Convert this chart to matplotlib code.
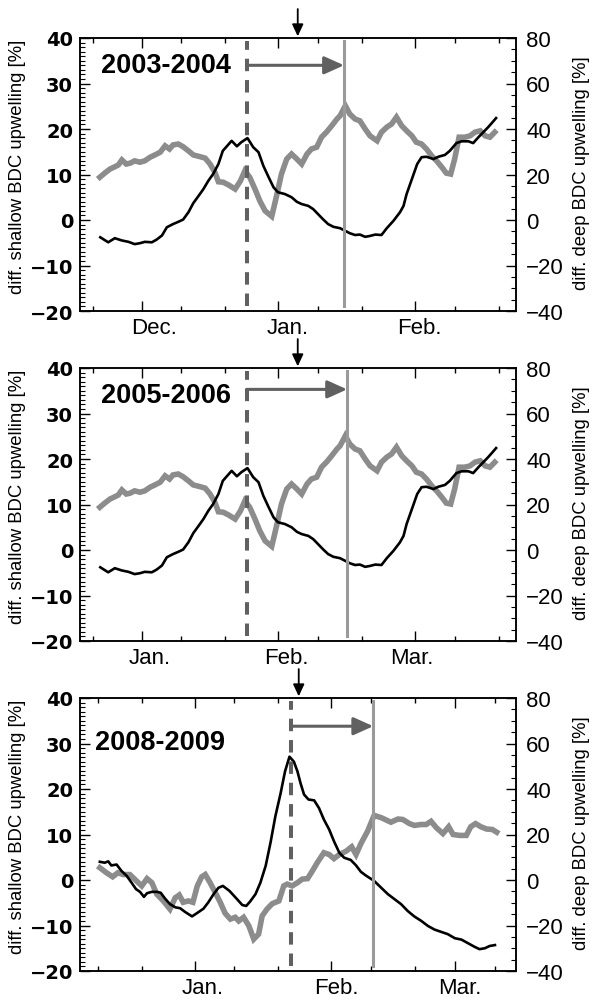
#!/usr/bin/env python3
# bdc_upwelling_panels.py

import matplotlib
matplotlib.use("Agg")
import matplotlib.pyplot as plt
import matplotlib.transforms as mtransforms
from matplotlib.ticker import MultipleLocator

plt.rcParams["font.family"] = ["DejaVu Sans"]

# ---- 2003-2004 (days since 1 Dec) ----
shallow_days_0304 = [-9.4, -7.6, -6.1, -4.5, -3.0, -1.6, -0.4, 0.7, 2.3, 3.4, 4.6, 5.7,
                     7.1, 8.3, 9.4, 10.6, 11.7, 12.9, 14.0, 15.1, 16.2, 17.4, 18.4, 20.4,
                     21.6, 22.6, 24.0, 25.3, 26.5, 27.6, 28.8, 29.9, 30.9, 32.5, 34.0, 35.2,
                     36.3, 37.8, 38.9, 40.0, 41.2, 42.3, 43.5, 45.0, 46.2, 47.2, 48.4, 49.5,
                     50.7, 51.8, 53.0, 54.4, 55.6, 57.1, 58.6, 59.4, 60.1, 60.9, 61.7, 62.5,
                     63.5, 64.6, 66.2, 67.3, 68.8, 69.9, 71.4, 72.6, 74.1, 75.2, 76.4, 77.5,
                     78.6, 79.6, 80.4]
shallow_0304 = [-3.8, -4.9, -4.0, -4.5, -4.8, -5.3, -5.1, -4.8, -4.9, -4.3, -3.4, -1.6,
                -0.9, -0.4, 0.1, 1.7, 3.7, 5.3, 6.8, 8.6, 10.1, 12.3, 15.2, 17.4,
                16.2, 17.1, 18.0, 16.0, 14.9, 11.9, 9.4, 7.2, 6.1, 5.7, 5.0, 4.0,
                3.5, 3.1, 2.4, 1.3, 0.1, -0.9, -1.5, -1.8, -2.4, -2.9, -3.3, -3.2,
                -3.7, -3.5, -3.2, -3.3, -1.8, -0.2, 1.7, 3.1, 5.7, 7.9, 10.1, 12.3,
                13.8, 13.9, 13.4, 13.9, 14.3, 15.2, 16.9, 17.3, 17.3, 16.9, 18.2, 19.3,
                20.4, 21.5, 22.4]
deep_days_0304 = [-9.5, -8.4, -7.2, -6.1, -5.3, -4.5, -3.5, -2.6, -1.6, -0.4, 0.7, 1.9,
                  3.0, 4.2, 5.3, 6.3, 7.1, 8.3, 9.4, 10.6, 11.7, 13.3, 14.4, 15.5,
                  16.6, 17.4, 18.5, 19.7, 21.2, 22.4, 23.4, 24.5, 25.7, 26.8, 28.0, 29.5,
                  30.6, 31.7, 32.9, 34.0, 35.2, 36.3, 37.5, 38.5, 39.7, 40.8, 42.0, 43.1,
                  44.3, 45.0, 46.2, 47.2, 48.4, 49.5, 50.7, 51.8, 53.4, 54.4, 55.6, 56.7,
                  57.8, 59.0, 60.1, 61.3, 62.3, 63.5, 64.6, 65.8, 66.9, 68.1, 69.1, 70.1,
                  71.0, 72.0, 73.3, 74.5, 75.6, 76.8, 77.9, 79.0, 80.1]
deep_0304 = [18.8, 20.6, 22.4, 23.4, 24.2, 26.4, 24.6, 25.0, 26.0, 25.4, 26.0, 27.6,
             28.6, 29.8, 32.6, 31.2, 33.0, 33.4, 32.2, 30.4, 28.6, 27.8, 27.2, 24.6,
             21.0, 16.8, 16.6, 15.4, 13.6, 17.2, 21.6, 18.8, 13.6, 8.4, 4.0, 1.6,
             10.6, 20.2, 26.8, 29.0, 26.8, 24.6, 29.0, 31.2, 32.0, 36.4, 38.8, 41.4,
             44.4, 45.8, 50.2, 46.6, 44.4, 43.6, 40.0, 37.0, 34.8, 38.6, 40.8, 42.2,
             45.2, 41.4, 39.2, 37.0, 34.2, 33.4, 31.2, 28.2, 26.0, 23.2, 20.6, 20.2,
             26.8, 36.4, 36.4, 37.0, 38.6, 39.2, 37.0, 36.4, 38.6]

# ---- 2005-2006: curves in the original panel are the same as 2003-2004 ----
shallow_days_0506 = shallow_days_0304
shallow_0506 = shallow_0304
deep_days_0506 = deep_days_0304
deep_0506 = deep_0304

# ---- 2008-2009 (days since 1 Jan) ----
shallow_days_0809 = [-21.5, -20.4, -19.6, -18.9, -17.7, -16.6, -15.4, -14.3, -13.3, -12.4,
                     -11.5, -10.8, -9.7, -8.6, -7.7, -6.7, -5.6, -4.4, -3.3, -2.2, -0.6,
                     0.5, 2.0, 3.1, 4.3, 5.4, 6.4, 7.9, 9.6, 10.8, 11.7, 12.6, 13.8, 14.9,
                     16.1, 17.2, 18.3, 19.5, 20.5, 21.5, 22.5, 23.3, 24.0, 24.8, 25.8,
                     27.1, 28.2, 29.3, 30.5, 31.6, 32.8, 33.9, 35.4, 36.6, 37.7, 38.8,
                     40.7, 42.3, 43.8, 45.3, 46.8, 48.3, 49.8, 51.4, 52.9, 54.4, 55.9,
                     57.4, 59.0, 60.5, 62.0, 63.5, 64.6, 65.8, 66.9, 68.1]
shallow_0809 = [4.0, 3.8, 4.1, 3.2, 3.4, 2.0, 0.9, -0.6, -2.0, -2.6,
                -3.7, -2.9, -2.6, -2.6, -2.8, -4.1, -5.3, -6.0, -6.2, -7.0, -8.0,
                -7.3, -6.3, -4.9, -3.1, -1.7, -1.3, -2.4, -4.2, -5.5, -5.7, -4.7, -3.1, -0.6,
                3.1, 8.2, 14.0, 19.1, 23.9, 27.1, 26.0, 23.9, 21.3, 18.8, 17.7,
                17.5, 15.8, 13.3, 11.1, 8.5, 6.0, 4.9, 4.4, 3.2, 1.8, 1.0,
                -0.2, -1.7, -3.1, -4.2, -5.3, -6.8, -8.0, -9.0, -10.1, -10.9, -11.4,
                -11.9, -12.8, -13.1, -13.9, -14.7, -15.2, -15.0, -14.5, -14.3]
deep_days_0809 = [-21.5, -20.0, -18.6, -17.4, -16.2, -14.7, -13.2, -12.0, -10.8, -9.7,
                  -8.6, -7.1, -5.6, -4.4, -3.5, -2.6, -1.4, -0.4, 0.6, 1.6, 2.4, 3.5,
                  4.7, 5.8, 6.9, 8.1, 9.2, 10.0, 11.1, 12.3, 13.4, 14.5, 15.3, 16.4,
                  17.6, 19.1, 20.2, 21.0, 22.1, 23.3, 24.4, 25.6, 26.7, 27.8, 29.3,
                  30.5, 31.6, 32.8, 34.3, 35.6, 36.6, 37.7, 39.2, 40.7, 42.3, 44.5,
                  46.1, 47.2, 48.7, 49.8, 51.4, 52.5, 53.6, 54.8, 56.3, 57.6, 58.6,
                  60.1, 61.6, 62.6, 63.7, 64.9, 66.2, 67.5, 68.5]
deep_0809 = [5.4, 3.2, 1.4, 3.2, 2.4, 2.4, -0.4, -2.6, 0.6, -1.2,
             -6.2, -9.2, -12.8, -7.8, -6.6, -9.8, -9.2, -9.8, -2.6, 1.4, 2.4, -1.2,
             -5.6, -9.8, -14.6, -17.2, -16.4, -18.0, -16.4, -20.2, -26.0, -23.8, -15.8, -12.8,
             -10.4, -9.2, -2.6, -1.8, -2.6, -1.2, 0.4, 0.6, 4.0, 7.6, 12.0,
             11.2, 9.4, 11.2, 12.6, 14.6, 11.2, 16.0, 21.4, 28.4, 27.4, 25.4,
             26.8, 26.6, 24.8, 24.0, 24.4, 24.4, 25.8, 23.0, 20.4, 23.4, 20.0,
             19.6, 19.6, 23.4, 24.8, 23.4, 22.4, 22.2, 21.0]

# ---- axis ticks and event markers (days) ----
ticks_dec_feb = [-11, 0, 9, 19, 31, 40, 50, 62, 71, 81]
month_ticks_dec_feb = [0, 31, 62]
ticks_jan_mar = [-22, -12, 0, 9, 19, 31, 40, 50, 59, 68]
month_ticks_jan_mar = [0, 31, 59]

years = ["2003-2004", "2005-2006", "2008-2009"]
month_labels = [["Dec.", "Jan.", "Feb."], ["Jan.", "Feb.", "Mar."], ["Jan.", "Feb.", "Mar."]]
month_label_days = [[2.9, 33.1, 62.9], [1.8, 32.8, 61.3], [1.8, 32.2, 60.1]]
onset_days = [23.8, 23.8, 21.9]
peak_days = [45.9, 46.6, 40.5]
marker_days = [35.4, 35.4, 23.6]


def draw_panel(fig, rect, i, s_days, s_vals, d_days, d_vals, ticks, month_ticks, xlim,
               arrow_y, year_xy):
    ax = fig.add_axes(rect)
    ax2 = ax.twinx()
    ax.set_zorder(ax2.get_zorder() + 1)
    ax.patch.set_visible(False)

    ax2.plot(d_days, d_vals, color="#8c8c8c", lw=4.0, solid_joinstyle="miter")
    ax.plot(s_days, s_vals, color="black", lw=1.9)

    ax.set_xlim(*xlim)
    ax.set_ylim(-20, 40)
    ax2.set_ylim(-40, 80)

    # event lines
    ax.axvline(onset_days[i], ymin=0.02, ymax=0.988, color="#606060", lw=2.9,
               linestyle=(0, (3.1, 2.2)))
    ax.axvline(peak_days[i], ymin=0.02, ymax=0.988, color="#9a9a9a", lw=2.2)
    ax.annotate("", xy=(peak_days[i], arrow_y), xytext=(onset_days[i], arrow_y),
                arrowprops=dict(arrowstyle="-|>,head_length=0.8,head_width=0.36",
                                mutation_scale=15, lw=2.2, color="#606060",
                                shrinkA=0, shrinkB=0))
    ax.annotate("", xy=(marker_days[i], 1.006), xytext=(marker_days[i], 1.106),
                xycoords=("data", "axes fraction"), textcoords=("data", "axes fraction"),
                annotation_clip=False,
                arrowprops=dict(arrowstyle="-|>,head_length=0.6,head_width=0.28",
                                mutation_scale=12, lw=1.3, color="black",
                                shrinkA=0, shrinkB=0))

    ax.text(year_xy[0], year_xy[1], years[i], transform=ax.transAxes, ha="left",
            va="center", family="Liberation Sans", fontweight="bold", fontsize=19.5)

    # x ticks
    ax.set_xticks(month_ticks)
    ax.set_xticklabels([])
    ax.set_xticks([t for t in ticks if t not in month_ticks], minor=True)
    ax.tick_params(axis="x", which="major", direction="in", length=7, width=1,
                   top=True, bottom=True)
    ax.tick_params(axis="x", which="minor", direction="in", length=3.6, width=1,
                   top=True, bottom=True)
    trans = mtransforms.blended_transform_factory(ax.transData, ax.transAxes)
    for day, lab in zip(month_label_days[i], month_labels[i]):
        ax.text(day, -0.022, lab, transform=trans, ha="center", va="top",
                family="Liberation Sans", fontsize=16)

    # y ticks
    ax.set_yticks(range(-20, 41, 10))
    ax.yaxis.set_minor_locator(MultipleLocator(1))
    ax.tick_params(axis="y", which="major", direction="in", length=7, width=1,
                   labelsize=14, pad=5)
    ax.tick_params(axis="y", which="minor", direction="in", length=3.5, width=0.8)
    for lbl in ax.get_yticklabels():
        lbl.set_fontweight("bold")

    ax2.set_yticks(range(-40, 81, 20))
    ax2.yaxis.set_minor_locator(MultipleLocator(5))
    ax2.tick_params(axis="y", which="major", direction="in", length=7, width=1,
                    labelsize=16, pad=7.5)
    ax2.tick_params(axis="y", which="minor", direction="in", length=3.5, width=0.8)
    for lbl in ax2.get_yticklabels():
        lbl.set_family("Liberation Sans")

    for a in (ax, ax2):
        for sp in a.spines.values():
            sp.set_linewidth(1.1)

    ax.set_ylabel("diff. shallow BDC upwelling [%]", family="Liberation Sans",
                  fontsize=13.3, va="center")
    ax.yaxis.set_label_coords(-0.143, 0.533)
    ax2.set_ylabel("diff. deep BDC upwelling [%]", family="Liberation Sans",
                   fontsize=13.3, va="center")
    ax2.yaxis.set_label_coords(1.152, 0.509)
    return ax


def main():
    fig = plt.figure(figsize=(5.92, 10.03), dpi=100)
    left, width, height = 80 / 592, 435.7 / 592, 273 / 1003

    draw_panel(fig, [left, 1 - 312 / 1003, width, height], 0,
               shallow_days_0304, shallow_0304, deep_days_0304, deep_0304,
               ticks_dec_feb, month_ticks_dec_feb, (-14.0, 84.85), 34.0, (0.0475, 0.902))
    draw_panel(fig, [left, 1 - 642 / 1003, width, height], 1,
               shallow_days_0506, shallow_0506, deep_days_0506, deep_0506,
               ticks_dec_feb, month_ticks_dec_feb, (-14.0, 84.85), 35.3, (0.0475, 0.902))
    draw_panel(fig, [left, 1 - 972 / 1003, width, height], 2,
               shallow_days_0809, shallow_0809, deep_days_0809, deep_0809,
               ticks_jan_mar, month_ticks_jan_mar, (-26.0, 72.8), 33.8, (0.035, 0.84))

    fig.savefig("out.png", dpi=100, facecolor="white")


if __name__ == "__main__":
    main()
